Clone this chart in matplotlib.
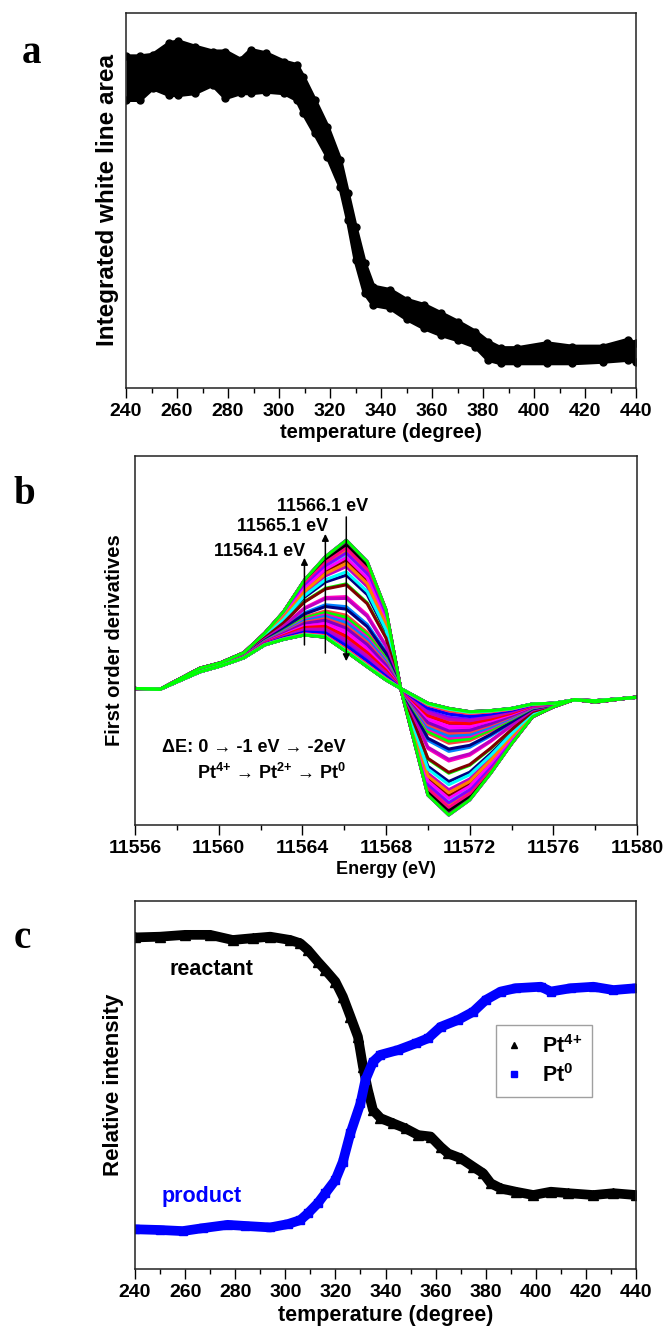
import numpy as np
import matplotlib
matplotlib.use("Agg")
import matplotlib.pyplot as plt

plt.rcParams["font.family"] = ["Liberation Sans", "DejaVu Sans"]
plt.rcParams["font.weight"] = "bold"
plt.rcParams["mathtext.fontset"] = "custom"
plt.rcParams["mathtext.rm"] = "Liberation Sans:bold"
plt.rcParams["mathtext.bf"] = "Liberation Sans:bold"
plt.rcParams["mathtext.default"] = "rm"

# --- panel a: integrated white line area (upper / lower edge of the scatter band, a.u.)
temp_a = [240, 245.5, 250.5, 257, 260.5, 267, 274, 279, 285, 289, 295, 302, 307, 309.5,
          314, 319, 324, 327, 330, 333.6, 337, 343.6, 350, 357, 363.6, 370, 377, 382,
          387, 393.5, 405, 415, 427, 436.7, 440]
wl_upper = [0.884, 0.884, 0.888, 0.919, 0.924, 0.910, 0.897, 0.897, 0.875, 0.901, 0.892,
            0.870, 0.861, 0.830, 0.768, 0.697, 0.608, 0.519, 0.430, 0.333, 0.270, 0.261,
            0.235, 0.221, 0.199, 0.177, 0.150, 0.123, 0.106, 0.106, 0.119, 0.110, 0.110,
            0.128, 0.119]
wl_lower = [0.768, 0.768, 0.799, 0.781, 0.781, 0.786, 0.808, 0.773, 0.786, 0.786, 0.790,
            0.786, 0.768, 0.733, 0.679, 0.617, 0.537, 0.448, 0.341, 0.253, 0.221, 0.213,
            0.184, 0.159, 0.141, 0.128, 0.110, 0.075, 0.066, 0.066, 0.066, 0.066, 0.070,
            0.075, 0.070]

# --- panel b: first order derivative, first (Pt4+) and last (Pt0) scan (a.u.)
energy_b = [11556.0, 11557.2, 11559.1, 11560.1, 11561.2, 11562.2, 11563.1, 11564.1,
            11565.1, 11566.1, 11567.1, 11568.0, 11568.7, 11570.0, 11571.0, 11572.0,
            11573.0, 11574.0, 11575.0, 11576.0, 11577.0, 11578.0, 11580.0]
deriv_first = [0.370, 0.368, 0.425, 0.440, 0.467, 0.520, 0.578, 0.664, 0.727, 0.772,
               0.714, 0.583, 0.370, 0.081, 0.027, 0.068, 0.140, 0.220, 0.293, 0.320,
               0.340, 0.333, 0.347]
deriv_last = [0.370, 0.368, 0.415, 0.431, 0.453, 0.488, 0.503, 0.515, 0.509, 0.470,
              0.429, 0.393, 0.370, 0.330, 0.316, 0.307, 0.310, 0.316, 0.328, 0.330,
              0.339, 0.337, 0.346]
line_colors = ["#FF00FF", "#FF0000", "#C000C0", "#0000FF", "#FF00FF", "#800080",
               "#000000", "#FF0080", "#8000FF", "#FF00FF", "#FF8000", "#00FFFF",
               "#800000", "#C000C0", "#000080", "#00FF00", "#FF00C0", "#0080FF",
               "#FF4040", "#8000C0"]
arrow_energy = [11564.1, 11565.1, 11566.1]
arrow_labels = ["11564.1 eV", "11565.1 eV", "11566.1 eV"]

# --- panel c: relative intensity from linear combination fit
temp_react = [240, 250, 260, 270, 279, 287, 294, 302, 306, 309, 313, 316, 320, 323, 326,
              329, 331, 333, 335, 338, 343, 348, 353, 358, 362, 365, 370, 375, 379, 382,
              386, 392, 399, 406, 413, 423, 431, 440]
reactant = [0.901, 0.903, 0.908, 0.908, 0.894, 0.899, 0.903, 0.894, 0.885, 0.867, 0.835,
            0.8125, 0.781, 0.740, 0.686, 0.631, 0.550, 0.486, 0.432, 0.410, 0.396, 0.382,
            0.364, 0.360, 0.332, 0.314, 0.301, 0.278, 0.260, 0.233, 0.219, 0.210, 0.201,
            0.210, 0.206, 0.201, 0.206, 0.201]
temp_prod = [240, 250, 259, 267, 277, 284, 294, 301, 306, 309, 313, 316, 320, 323, 326,
             330, 332, 335, 338, 345, 352, 357, 362, 369, 375, 380, 386, 392, 402, 406,
             414, 423, 431, 440]
product = [0.108, 0.106, 0.103, 0.111, 0.120, 0.117, 0.113, 0.122, 0.133, 0.151, 0.179,
           0.206, 0.242, 0.292, 0.369, 0.450, 0.514, 0.563, 0.582, 0.595, 0.613, 0.627,
           0.658, 0.677, 0.699, 0.731, 0.754, 0.763, 0.767, 0.754, 0.763, 0.767, 0.758,
           0.763]

PT4 = r"Pt$^{4\text{+}}$"
PT2 = r"Pt$^{2\text{+}}$"
PT0 = r"Pt$^{0}$"


def style_axis(ax, xmin, xmax, major, minor, tick_size):
    ax.set_xlim(xmin, xmax)
    ax.set_ylim(0, 1)
    ax.set_xticks(np.arange(xmin, xmax + 0.1, major))
    ax.set_xticks(np.arange(xmin, xmax + 0.1, minor), minor=True)
    ax.set_yticks([])
    ax.tick_params(axis="x", which="major", direction="out", length=7, width=1,
                   labelsize=tick_size, pad=4)
    ax.tick_params(axis="x", which="minor", direction="out", length=3.5, width=1)
    for sp in ax.spines.values():
        sp.set_linewidth(1.1)
        sp.set_color("#222222")
    for lab in ax.get_xticklabels():
        lab.set_fontweight("bold")


def panel_a(fig):
    ax = fig.add_axes([0.1895, 0.7083, 0.767, 0.282])
    ax.fill_between(temp_a, wl_lower, wl_upper, color="black", lw=0)
    for edge in (wl_upper, wl_lower):
        ax.plot(temp_a, edge, "o-", color="black", ms=5, lw=3,
                solid_joinstyle="round", solid_capstyle="round")
    style_axis(ax, 240, 440, 20, 10, 14)
    ax.set_xlabel("temperature (degree)", fontsize=14.5, fontweight="bold", labelpad=2)
    ax.set_ylabel("Integrated white line area", fontsize=17.5, fontweight="bold", labelpad=5)
    fig.text(0.033, 0.953, "a", family="Liberation Serif", fontsize=28, fontweight="bold")


def panel_b(fig):
    ax = fig.add_axes([0.203, 0.3797, 0.755, 0.2774])
    first = np.array(deriv_first)
    last = np.array(deriv_last)
    react = np.array(reactant)
    prod = np.array(product)
    # weight of the Pt4+ spectrum in each scan, taken from the fit of panel c
    w_r = (react - react.min()) / (react.max() - react.min())
    w_p = (prod.max() - prod) / (prod.max() - prod.min())
    weights = np.concatenate([w_r, w_p])
    for i, wi in enumerate(weights):
        curve = wi * first + (1 - wi) * last
        ax.plot(energy_b, curve, color=line_colors[i % len(line_colors)], lw=2.2)
    ax.plot(energy_b, deriv_first, color="#00FF00", lw=2.2)
    ax.plot(energy_b, deriv_last, color="#00FF00", lw=2.2)

    arrows = [(0.488, 0.724), (0.466, 0.789), (0.835, 0.444)]
    label_pos = [(11564.13, 0.742), (11565.23, 0.808), (11567.14, 0.862)]
    for e, (y0, y1), (lx, ly), txt in zip(arrow_energy, arrows, label_pos, arrow_labels):
        ax.annotate("", xy=(e, y1), xytext=(e, y0),
                    arrowprops=dict(arrowstyle="-|>", color="black", lw=1.1,
                                    mutation_scale=10, shrinkA=0, shrinkB=0))
        ax.text(lx, ly, txt, ha="right", va="center", fontsize=13, fontweight="bold")

    ax.text(0.054, 0.209, "\u0394E: 0 \u2192 -1 eV \u2192 -2eV", transform=ax.transAxes,
            fontsize=13, fontweight="bold", va="center")
    ax.text(0.1235, 0.141, f"{PT4} \u2192 {PT2} \u2192 {PT0}",
            transform=ax.transAxes, fontsize=13, fontweight="bold", va="center")

    style_axis(ax, 11556, 11580, 4, 2, 14)
    ax.set_xlabel("Energy (eV)", fontsize=13, fontweight="bold", labelpad=3)
    ax.set_ylabel("First order derivatives", fontsize=14.5, fontweight="bold", labelpad=8)
    fig.text(0.02, 0.621, "b", family="Liberation Serif", fontsize=28, fontweight="bold")


def panel_c(fig):
    ax = fig.add_axes([0.203, 0.04586, 0.7534, 0.2767])
    ax.plot(temp_react, reactant, color="black", lw=7, solid_joinstyle="round")
    ax.plot(temp_react, reactant, "^", color="black", ms=7)
    ax.plot(temp_prod, product, color="#0000FF", lw=7, solid_joinstyle="round")
    ax.plot(temp_prod, product, "s", color="#0000FF", ms=6)

    ax.text(0.068, 0.8125, "reactant", transform=ax.transAxes, fontsize=15.5,
            fontweight="bold", va="center")
    ax.text(0.054, 0.198, "product", transform=ax.transAxes, fontsize=15.5,
            fontweight="bold", va="center", color="#0000FF")

    h1 = plt.Line2D([], [], ls="none", marker="^", color="black", ms=4)
    h2 = plt.Line2D([], [], ls="none", marker="s", color="#0000FF", ms=4)
    leg = ax.legend([h1, h2], [PT4, PT0], loc="upper right",
                    bbox_to_anchor=(0.912, 0.663), borderaxespad=0, fontsize=15.5,
                    frameon=True, fancybox=False, handlelength=0.8, handletextpad=0.9,
                    borderpad=0.45, labelspacing=0.3)
    leg.get_frame().set_edgecolor("#888888")
    leg.get_frame().set_linewidth(1.0)

    style_axis(ax, 240, 440, 20, 10, 14)
    ax.set_xlabel("temperature (degree)", fontsize=15.5, fontweight="bold", labelpad=3)
    ax.set_ylabel("Relative intensity", fontsize=16, fontweight="bold", labelpad=8)
    fig.text(0.02, 0.287, "c", family="Liberation Serif", fontsize=28, fontweight="bold")


def main():
    fig = plt.figure(figsize=(6.65, 13.3), dpi=100)
    panel_a(fig)
    panel_b(fig)
    panel_c(fig)
    fig.savefig("out.png", dpi=100, facecolor="white")


if __name__ == "__main__":
    main()
